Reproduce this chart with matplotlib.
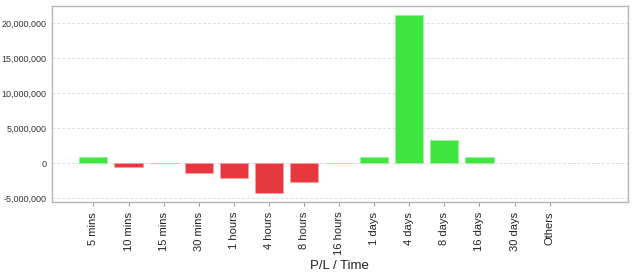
import numpy as np
import matplotlib.pyplot as plt
from matplotlib.ticker import FuncFormatter

plt.rcParams['font.family'] = ['Liberation Sans', 'DejaVu Sans']

categories = ['5 mins', '10 mins', '15 mins', '30 mins', '1 hours', '4 hours', '8 hours',
              '16 hours', '1 days', '4 days', '8 days', '16 days', '30 days', 'Others']
pnl = [860000, -570000, -20000, -1450000, -2140000, -4200000, -2710000,
       40000, 860000, 21190000, 3330000, 860000, 0, 0]

green = '#3fe53f'
red = '#e8383f'
colors = [green if v >= 0 else red for v in pnl]
edges = ['#9af29a' if v >= 0 else '#f2a0a3' for v in pnl]
lws = [0.6 if v != 0 else 0 for v in pnl]

fig = plt.figure(figsize=(6.36, 2.76), dpi=100)
ax = fig.add_axes([0.0818, 0.268, 0.905, 0.71])

x = np.arange(len(categories))
ax.bar(x, pnl, width=0.8, color=colors, edgecolor=edges, linewidth=lws, zorder=3)

ax.set_xlim(-1.18, 15.22)
ax.set_ylim(-5530000, 22470000)
ax.set_yticks([-5000000, 0, 5000000, 10000000, 15000000, 20000000])
ax.yaxis.set_major_formatter(FuncFormatter(lambda v, p: f'{int(v):,}'))
ax.set_xticks(x)
ax.set_xticklabels(categories, rotation=90)

ax.grid(axis='y', linestyle=(0, (3, 2)), color='#dddddd', linewidth=0.7, zorder=0)
for s in ax.spines.values():
    s.set_color('#b5b5b5')
    s.set_linewidth(1.0)
ax.tick_params(axis='y', length=0, labelsize=6.5, colors='#333333', pad=4)
ax.tick_params(axis='x', length=3, labelsize=8, colors='#999999', labelcolor='#222222', pad=4)

ax.set_xlabel('P/L / Time', fontsize=9.5, color='#222222', labelpad=3)

fig.savefig('out.png', dpi=100)
